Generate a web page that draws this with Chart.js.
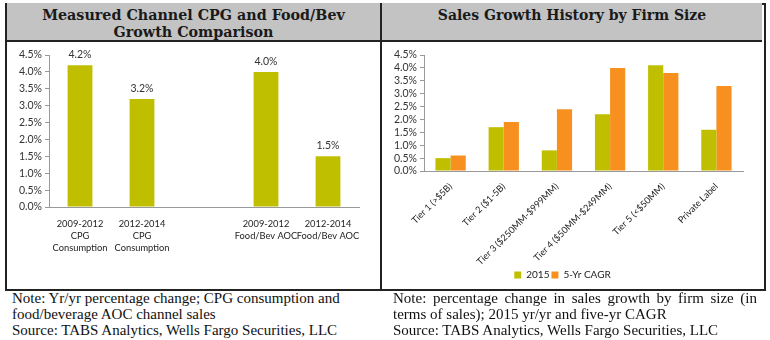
<!DOCTYPE html>
<html>
<head>
<meta charset="utf-8">
<script src="https://cdn.jsdelivr.net/npm/chart.js@4"></script>
<style>
    body { margin: 0; background: #fff; width: 770px; height: 340px; position: relative; overflow: hidden; }
    .frame { position: absolute; left: 5px; top: 3px; width: 757px; height: 284px; border: 2px solid #222; box-sizing: content-box; }
    .head { position: absolute; top: 3px; height: 37px; background: #c3c3c3; border-bottom: 2px solid #222; }
    .divider { position: absolute; left: 380px; top: 3px; width: 2px; height: 286px; background: #222; }
    .title { font-family: "DejaVu Serif", serif; font-weight: bold; font-size: 14.3px; line-height: 17px; color: #1a1a1a; text-align: center; padding-top: 4px; }
    .note { position: absolute; top: 290px; font-family: "Liberation Serif", serif; font-size: 15px; line-height: 16px; color: #111; }
</style>
</head>
<body>
<div class="frame"></div>
<div class="head" style="left:7px;width:373px;"><div class="title">Measured Channel CPG and Food/Bev<br>Growth Comparison</div></div>
<div class="head" style="left:382px;width:380px;"><div class="title" style="font-size:14px;">Sales Growth History by Firm Size</div></div>
<div class="divider"></div>

<div style="position:absolute;left:7px;top:42px;width:373px;height:245px;"><canvas id="leftChart"></canvas></div>
<div style="position:absolute;left:382px;top:42px;width:380px;height:249px;"><canvas id="rightChart"></canvas></div>

<div class="note" style="left:12px;width:360px;">Note: Yr/yr percentage change; CPG consumption and food/beverage AOC channel sales<br>Source: TABS Analytics, Wells Fargo Securities, LLC</div>
<div class="note" style="left:393px;width:364px;text-align:justify;">Note: percentage change in sales growth by firm size (in terms of sales); 2015 yr/yr and five-yr CAGR<br>Source: TABS Analytics, Wells Fargo Securities, LLC</div>

<script>
// Left chart data
const channelLabels = [
    ['2009-2012', 'CPG', 'Consumption'],
    ['2012-2014', 'CPG', 'Consumption'],
    '',
    ['2009-2012', 'Food/Bev AOC'],
    ['2012-2014', 'Food/Bev AOC']
];
const channelGrowth = [4.2, 3.2, null, 4.0, 1.5];

// Right chart data
const firmLabels = ['Tier 1 (>$5B)', 'Tier 2 ($1-5B)', 'Tier 3 ($250MM-$999MM)', 'Tier 4 ($50MM-$249MM)', 'Tier 5 (<$50MM)', 'Private Label'];
const growth2015 = [0.5, 1.7, 0.8, 2.2, 4.1, 1.6];
const growthCagr = [0.6, 1.9, 2.4, 4.0, 3.8, 3.3];

const yTicks = [0, 0.5, 1, 1.5, 2, 2.5, 3, 3.5, 4, 4.5];

const green = '#bfbf00';
const orange = '#f7901e';
const axisFont = { family: 'Lato', size: 10.5 };

Chart.defaults.color = '#333';
Chart.defaults.animation = false;

// draws the value above each bar
const valueLabels = {
    id: 'valueLabels',
    afterDatasetsDraw(chart) {
        const ctx = chart.ctx;
        ctx.save();
        ctx.font = '10.5px Lato';
        ctx.fillStyle = '#333';
        ctx.textAlign = 'center';
        ctx.textBaseline = 'bottom';
        chart.getDatasetMeta(0).data.forEach((bar, i) => {
            const v = chart.data.datasets[0].data[i];
            if (v == null) return;
            ctx.fillText(v.toFixed(1) + '%', bar.x, bar.y - 5);
        });
        ctx.restore();
    }
};

function yAxis(width) {
    return {
        min: 0,
        max: 4.5,
        afterBuildTicks: axis => { axis.ticks = yTicks.map(v => ({ value: v })); },
        afterFit: axis => { axis.width = width; },
        ticks: { font: axisFont, padding: 3, autoSkip: false, callback: v => v.toFixed(1) + '%' },
        grid: { drawOnChartArea: false, drawTicks: true, tickLength: 4, color: '#999' },
        border: { color: '#999' }
    };
}

new Chart(document.getElementById('leftChart'), {
    type: 'bar',
    data: {
        labels: channelLabels,
        datasets: [{
            data: channelGrowth,
            backgroundColor: green,
            barPercentage: 0.4,
            categoryPercentage: 1
        }]
    },
    options: {
        responsive: true,
        maintainAspectRatio: false,
        layout: { padding: { top: 13, right: 21, left: 0, bottom: 0 } },
        plugins: { legend: { display: false }, tooltip: { enabled: false } },
        scales: {
            y: yAxis(42),
            x: {
                afterFit: axis => { axis.height = 80; },
                ticks: {
                    font: { family: 'Lato', size: 9.3, lineHeight: 1.3 },
                    color: '#222', maxRotation: 0, autoSkip: false, padding: 3
                },
                grid: { display: false },
                border: { color: '#999' }
            }
        }
    },
    plugins: [valueLabels]
});

new Chart(document.getElementById('rightChart'), {
    type: 'bar',
    data: {
        labels: firmLabels,
        datasets: [
            { label: '2015', data: growth2015, backgroundColor: green, barPercentage: 1, categoryPercentage: 0.57 },
            { label: '5-Yr CAGR', data: growthCagr, backgroundColor: orange, barPercentage: 1, categoryPercentage: 0.57 }
        ]
    },
    options: {
        responsive: true,
        maintainAspectRatio: false,
        layout: { padding: { top: 13, right: 19, left: 0, bottom: 1 } },
        plugins: {
            legend: {
                position: 'bottom',
                labels: { boxWidth: 7, boxHeight: 7, font: { family: 'Lato', size: 10 }, color: '#222', padding: 2 }
            },
            tooltip: { enabled: false }
        },
        scales: {
            y: yAxis(42),
            x: {
                afterFit: axis => { axis.height = 97; },
                ticks: { font: { family: 'Lato', size: 9.2 }, color: '#222', minRotation: 45, maxRotation: 45, autoSkip: false, padding: 2 },
                grid: { display: false },
                border: { color: '#999' }
            }
        }
    }
});
</script>
</body>
</html>
